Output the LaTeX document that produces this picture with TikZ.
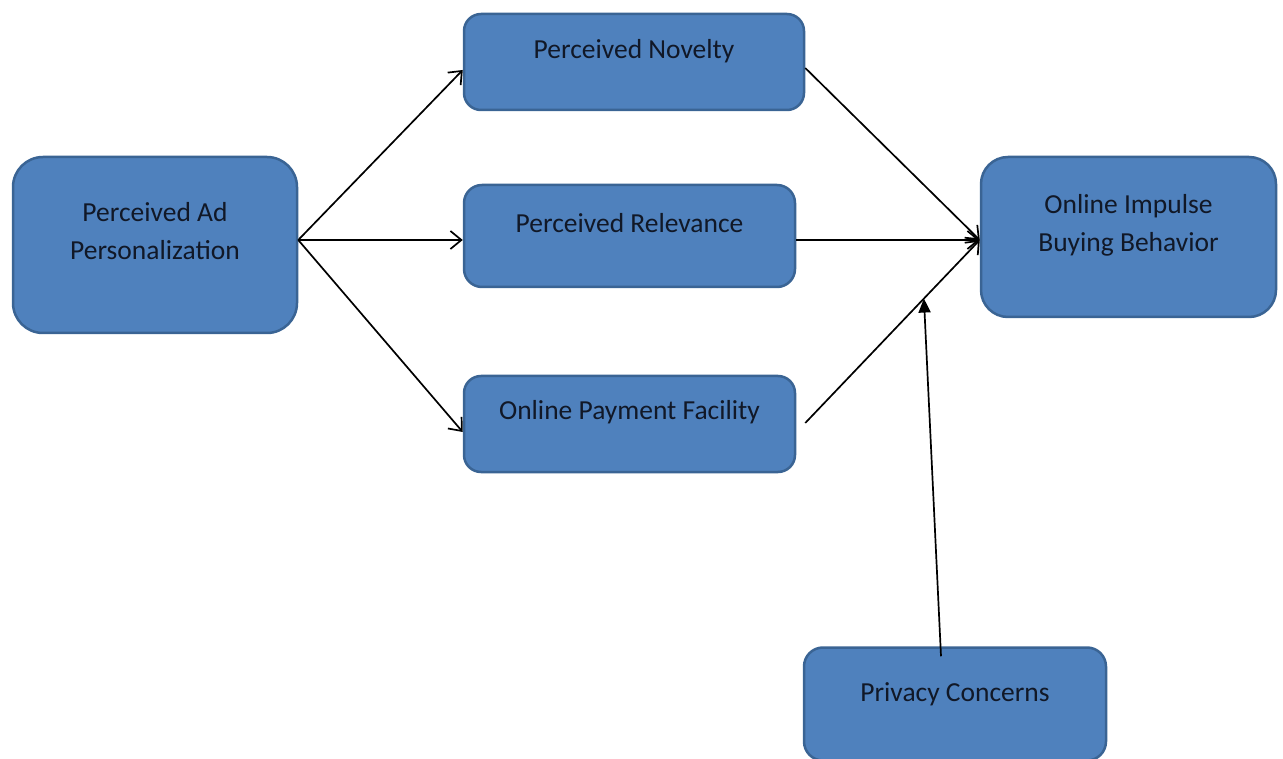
\documentclass[tikz,border=0pt]{standalone}
\usepackage{fontspec}
\setmainfont{Carlito}
\usepackage{tikz}
\usetikzlibrary{arrows.meta, positioning, calc}

\definecolor{boxfill}{HTML}{4F81BD}
\definecolor{boxline}{HTML}{3A6494}
\definecolor{boxtext}{HTML}{111827}

\begin{document}
\begin{tikzpicture}[x=1pt, y=-1pt,
  box/.style={rectangle, draw=boxline, fill=boxfill, line width=2.5pt},
  txt/.style={align=center, text=boxtext, font=\fontsize{27.5}{38}\selectfont},
  arr/.style={-{Straight Barb[length=11pt,width=18pt,line width=1.7pt]}, line width=1.7pt, black},
  modarr/.style={-{Triangle[length=14pt,width=12pt]}, line width=1.7pt, black},
]
\useasboundingbox (0,0) rectangle (1283,759);

% Left
\node[box, rounded corners=30pt, minimum width=284pt, minimum height=176pt] (ad) at (155,245) {};
\node[txt] (ad-txt) at ([yshift=14pt]ad.center) {Perceived Ad\\Personalization};

% Middle
\node[box, rounded corners=17pt, minimum width=340pt, minimum height=96pt] (nov) at (634,62) {};
\node[txt] (nov-txt) at ([yshift=11pt]nov.center) {Perceived Novelty};

\node[box, rounded corners=18pt, minimum width=331pt, minimum height=102pt] (rel) at (629.5,236) {};
\node[txt] (rel-txt) at ([yshift=13pt]rel.center) {Perceived Relevance};

\node[box, rounded corners=17pt, minimum width=331pt, minimum height=96pt] (pay) at (629.5,424) {};
\node[txt] (pay-txt) at ([yshift=12pt]pay.center) {Online Payment Facility};

% Right
\node[box, rounded corners=27pt, minimum width=295pt, minimum height=160pt] (imp) at (1128.5,237) {};
\node[txt] (imp-txt) at ([yshift=12pt]imp.center) {Online Impulse\\Buying Behavior};

% Bottom
\node[box, rounded corners=19pt, minimum width=302pt, minimum height=113pt] (priv) at (955,704) {};
\node[txt] (priv-txt) at ([yshift=10pt]priv.center) {Privacy Concerns};

% Arrows
\draw[arr] ([yshift=5pt]ad.east) -- ([yshift=-8pt]nov.west);
\draw[arr] ([yshift=5pt]ad.east) -- ([yshift=-4pt]rel.west);
\draw[arr] ([yshift=5pt]ad.east) -- ([yshift=-8pt]pay.west);

\coordinate (pay-out) at ([xshift=9pt, yshift=1pt]pay.east);
\draw[arr] ([yshift=-6pt]nov.east) -- ([yshift=-3pt]imp.west);
\draw[arr] ([yshift=-4pt]rel.east) -- ([yshift=-3pt]imp.west);
\draw[arr] (pay-out) -- coordinate[pos=0.68] (mod) ([yshift=-3pt]imp.west);

\draw[modarr] ([xshift=-14pt, yshift=-10pt]priv.north) -- (mod);

\end{tikzpicture}
\end{document}
